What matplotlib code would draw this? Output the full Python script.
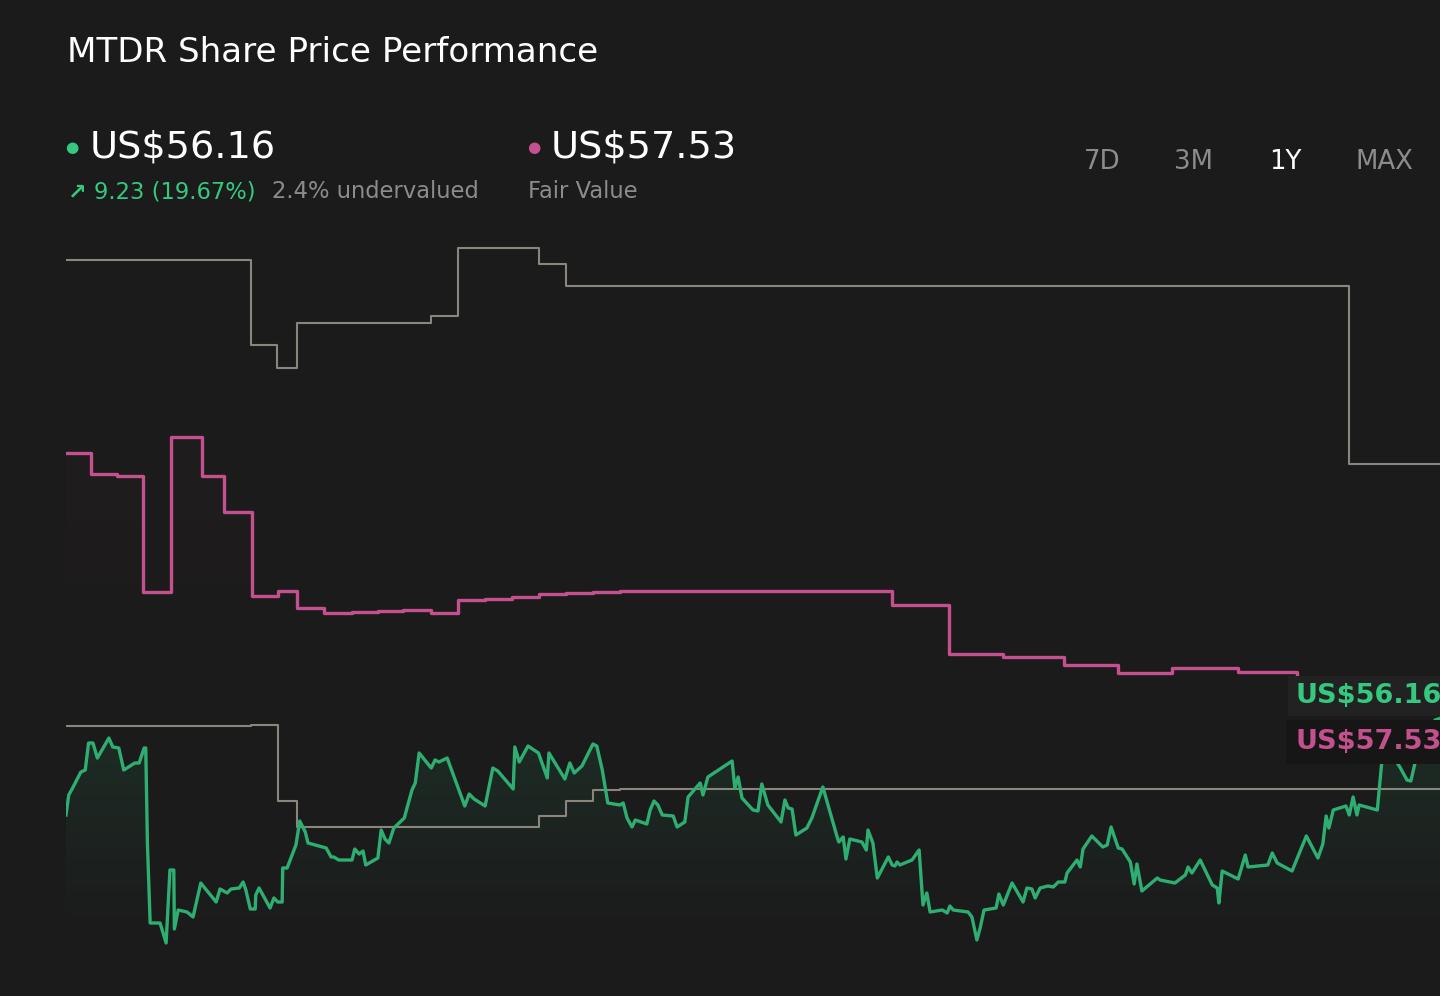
import numpy as np
import matplotlib
matplotlib.use("Agg")
import matplotlib.pyplot as plt
from matplotlib.patches import Polygon

# share price, trading day index over the last year
price_days = [0, 0.5, 1.2, 2.7, 3.5, 4.1, 4.9, 5.7, 7.8, 8.5, 9.6, 10.0, 10.5, 12.5, 13.3, 14.2, 14.5,
              14.8, 15.3, 17.1, 18.2, 18.9, 19.6, 19.7, 20.4, 22.0, 23.1, 24.5, 27.3, 28.0, 29.3,
              30.0, 31.5, 32.2, 32.7, 33.5, 34.4, 34.5, 35.1, 37.1, 37.8, 38.5, 39.3, 39.4, 40.2,
              41.8, 42.5, 43.5, 44.0, 47.3, 48.2, 48.7, 49.6, 52.0, 52.5, 53.3, 54.0, 54.5, 56.7,
              57.3, 58.0, 58.7, 59.6, 61.5, 62.9, 63.5, 64.2, 66.4, 67.1, 67.8, 69.3, 70.9, 72.5,
              73.3, 74.2, 76.2, 77.6, 78.5, 81.3, 81.6, 82.4, 84.0, 85.9, 87.5, 87.8, 90.7, 91.6,
              92.4, 93.8, 95.8, 96.5, 97.5, 98.5, 100.7, 101.3, 102.0, 102.9, 103.5, 105.6, 106.2,
              106.9, 107.6, 108.4, 110.4, 111.1, 112.5, 113.1, 115.3, 115.8, 116.7, 121.1, 121.6,
              122.2, 122.9, 124.9, 125.8, 126.5, 127.6, 130.0, 130.7, 131.3, 132.0, 132.7, 134.7,
              135.6, 137.6, 140.2, 140.5, 141.3, 141.8, 142.5, 144.7, 145.5, 145.8, 146.7, 147.5,
              149.5, 150.2, 150.7, 151.1, 151.6, 153.8, 155.1, 155.8, 156.5, 157.1, 159.3, 160.2,
              160.7, 161.3, 164.0, 164.7, 165.6, 166.2, 166.9, 169.1, 169.6, 170.4, 172.0, 174.0,
              174.7, 175.6, 176.2, 177.1, 178.5, 179.5, 180.4, 181.6, 182.0, 183.8, 184.4, 184.9,
              186.5, 188.5, 189.3, 190.0, 191.3, 192.0, 193.5, 194.2, 194.7, 195.6, 198.4, 198.9,
              201.6, 203.5, 204.0, 204.7, 206.2, 208.4, 209.3, 209.6, 210.2, 213.1, 214.4, 214.9,
              218.5, 219.3, 220.2, 222.9, 225.5, 227.6, 228.5, 229.1, 229.6, 230.4, 232.7, 233.3,
              234.0, 234.7, 235.1, 238.4, 239.3, 239.8, 242.5, 243.8, 244.5, 245.3, 247.5, 248.0,
              248.9, 249.8]
price_vals = [46.5, 48.5, 49.2, 50.8, 51.0, 53.7, 53.7, 52.2, 54.2, 53.3, 53.2, 52.2, 51.0, 51.7, 51.7, 53.2, 53.2,
              43.7, 35.7, 35.7, 33.7, 41.0, 41.0, 35.1, 37.0, 36.8, 36.3, 39.7, 37.8, 39.1, 38.7,
              39.1, 39.2, 39.8, 39.0, 37.1, 37.1, 38.5, 39.2, 37.2, 38.2, 37.8, 37.8, 41.2, 41.2,
              43.5, 45.9, 44.8, 43.7, 43.2, 42.3, 42.3, 42.0, 42.0, 43.1, 42.6, 42.9, 41.5, 42.2,
              45.0, 44.1, 43.7, 45.2, 46.2, 49.0, 49.7, 52.7, 51.2, 52.0, 51.8, 52.2, 49.8, 47.4,
              48.6, 48.1, 47.4, 51.2, 50.9, 49.1, 53.3, 51.8, 53.4, 52.7, 50.2, 52.7, 50.1, 51.7,
              50.7, 51.4, 53.6, 53.4, 51.0, 47.7, 47.5, 47.7, 46.2, 45.3, 46.0, 45.6, 47.0,
              47.9, 47.5, 46.5, 46.4, 45.3, 45.8, 48.3, 49.7, 48.5, 50.3, 51.9, 49.2,
              50.3, 48.2, 47.0, 46.9, 49.6, 47.5, 45.8, 48.0, 47.2, 47.1, 44.5, 45.2,
              46.2, 49.3, 44.3, 43.8, 44.3, 42.1, 44.1, 43.8, 43.0, 45.0, 43.7, 40.2,
              42.3, 41.5, 41.4, 41.8, 41.5, 42.0, 43.0, 37.5, 38.7, 36.8, 37.0, 36.7,
              37.4, 37.0, 36.8, 36.3, 34.0, 35.2, 37.0, 37.2, 38.6, 37.5, 39.7, 37.8,
              39.2, 39.1, 38.2, 39.2, 39.4, 39.3, 39.8, 39.8, 40.7, 42.0, 41.3, 43.1,
              44.4, 43.3, 43.5, 45.3, 43.2, 43.1, 41.8, 39.6, 41.6, 38.9, 40.2, 40.0,
              39.7, 40.5, 41.3, 40.7, 42.0, 39.5, 39.2, 37.7, 40.9, 40.1, 42.5, 41.3,
              41.5, 42.7, 41.7, 40.9, 44.4, 42.2, 43.6, 46.4, 45.2, 47.0, 47.4, 46.5,
              48.3, 46.5, 47.5, 47.0, 52.3, 53.5, 51.3, 50.0, 49.9, 51.8, 55.8, 55.3,
              56.0, 56.16]

# fair value estimate (step changes)
fv_days = [0, 4.5, 9.3, 14.0, 19.1, 24.7, 28.7, 33.8, 38.5, 42.0, 46.9, 52.0, 56.7, 61.3, 66.4, 71.3,
           76.2, 81.1, 86.0, 90.9, 95.8, 100.7, 150.2, 160.5, 170.4, 181.5, 191.3, 201.1, 213.1, 223.8, 249.8]
fv_vals = [82.7, 80.6, 80.4, 68.8, 84.3, 80.4, 76.8, 68.4, 68.9, 67.2, 66.7, 66.8, 66.9, 67.0, 66.7, 68.0,
           68.1, 68.3, 68.6, 68.7, 68.8, 68.9, 67.5, 62.6, 62.3, 61.5, 60.7, 61.2, 60.8, 59.8, 59.8]

# analyst price targets (high / low)
high_days = [0, 33.6, 38.4, 42.0, 66.4, 71.3, 86.0, 90.9, 233.3, 249.8]
high_vals = [102.0, 93.5, 91.2, 95.7, 96.4, 103.2, 101.6, 99.4, 81.6, 81.6]
low_days = [0, 33.6, 38.6, 42.0, 86.0, 90.9, 95.8, 100.7, 249.8]
low_vals = [55.4, 55.5, 47.9, 45.3, 46.4, 47.9, 49.0, 49.1, 49.1]

current_price = "US$56.16"
fair_value = "US$57.53"
change_text = "9.23 (19.67%)"
valuation_text = "2.4% undervalued"
periods = ["7D", "3M", "1Y", "MAX"]

BG = "#1b1b1b"
GREEN = "#2fae72"
GREEN_TXT = "#34c97f"
PINK = "#c4508e"
GRAY = "#8b867c"
Y_MIN, Y_MAX = 32, 105


def to_steps(x, y):
    xs = np.repeat(x, 2)[1:]
    ys = np.repeat(y, 2)[:-1]
    return xs, ys


def gradient_fill(ax, x, y, color, alpha_top, zorder, y_floor=Y_MIN):
    rgb = matplotlib.colors.to_rgb(color)
    img = np.zeros((200, 1, 4))
    img[:, :, :3] = rgb
    img[:, 0, 3] = np.linspace(alpha_top, 0.0, 200)
    im = ax.imshow(img, aspect="auto", origin="upper",
                   extent=[min(x), max(x), y_floor, max(y)], zorder=zorder)
    verts = np.column_stack([np.concatenate([[x[0]], x, [x[-1]]]),
                             np.concatenate([[y_floor], y, [y_floor]])])
    clip = Polygon(verts, closed=True, facecolor="none", edgecolor="none",
                   transform=ax.transData)
    ax.add_patch(clip)
    im.set_clip_path(clip)


fig = plt.figure(figsize=(14.4, 9.96), dpi=100, facecolor=BG)
ax = fig.add_axes([66 / 1440, 1 - 960 / 996, 1374 / 1440, 730 / 996])
ax.set_facecolor(BG)

fx, fy = to_steps(fv_days, fv_vals)
gradient_fill(ax, fx, fy, PINK, 0.025, 1, y_floor=45)
gradient_fill(ax, np.array(price_days), np.array(price_vals), GREEN, 0.13, 2, y_floor=35)

ax.step(high_days, high_vals, where="post", color=GRAY, lw=1.5, zorder=3)
ax.step(low_days, low_vals, where="post", color=GRAY, lw=1.5, zorder=3)
ax.step(fv_days, fv_vals, where="post", color=PINK, lw=2.4, zorder=4)
ax.plot(price_days, price_vals, color=GREEN, lw=2.4, zorder=5)

ax.set_xlim(0, 249.8)
ax.set_ylim(Y_MIN, Y_MAX)
ax.axis("off")

# header
fig.text(67 / 1440, 1 - 53 / 996, "MTDR Share Price Performance", color="white",
         fontsize=24.6, va="center", ha="left")
fig.text(72 / 1440, 1 - 147 / 996, "\u25cf", color=GREEN_TXT, fontsize=11, va="center", ha="center")
fig.text(90 / 1440, 1 - 147 / 996, current_price, color="white", fontsize=27.5, va="center")
fig.text(534 / 1440, 1 - 147 / 996, "\u25cf", color=PINK, fontsize=11, va="center", ha="center")
fig.text(551 / 1440, 1 - 147 / 996, fair_value, color="white", fontsize=27.5, va="center")
fig.text(68 / 1440, 1 - 192 / 996, "\u2197", color=GREEN_TXT, fontsize=16, va="center", fontweight="bold")
fig.text(94 / 1440, 1 - 192 / 996, change_text, color=GREEN_TXT, fontsize=16.3, va="center")
fig.text(272 / 1440, 1 - 192 / 996, valuation_text, color="#8c8c8c", fontsize=16.3, va="center")
fig.text(528 / 1440, 1 - 192 / 996, "Fair Value", color="#8c8c8c", fontsize=16.3, va="center")

period_x = [1102, 1194, 1285, 1384]
for px, label in zip(period_x, periods):
    fig.text(px / 1440, 1 - 162 / 996, label, color="white" if label == "1Y" else "#8c8c8c",
             fontsize=18.7, va="center", ha="center")

# right-hand value labels
fig.text(1295 / 1440, 1 - 696 / 996, current_price, color=GREEN_TXT, fontsize=19.5,
         fontweight="bold", va="center", ha="left",
         bbox=dict(boxstyle="square,pad=0.25", facecolor="#222222", edgecolor="none"))
fig.text(1295 / 1440, 1 - 742 / 996, fair_value, color=PINK, fontsize=19.5,
         fontweight="bold", va="center", ha="left",
         bbox=dict(boxstyle="square,pad=0.35", facecolor="#161616", edgecolor="none"))

fig.savefig("out.png", dpi=100, facecolor=BG)
